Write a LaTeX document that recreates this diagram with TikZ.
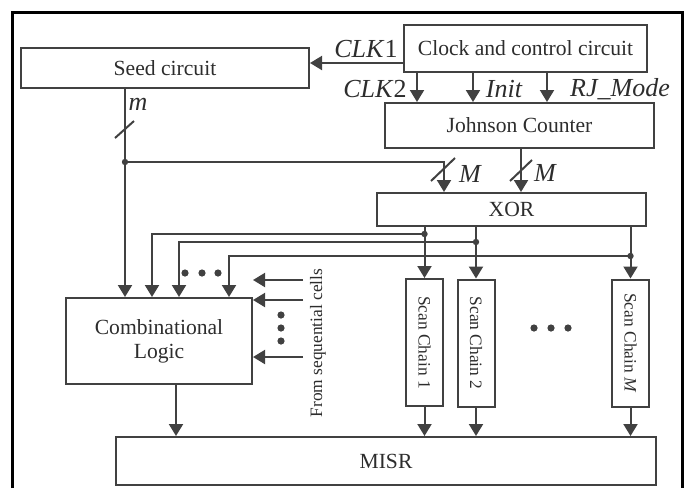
\documentclass[tikz,border=0pt]{standalone}
\usepackage{fontspec}
\setmainfont{Liberation Serif}
\usetikzlibrary{arrows.meta}
\definecolor{linegray}{RGB}{65,65,65}
\definecolor{textgray}{RGB}{45,45,45}

\begin{document}
\begin{tikzpicture}[x=0.5pt,y=-0.5pt,
  blk/.style={draw=linegray, line width=1pt, text=textgray, inner sep=0pt, font=\fontsize{10.8}{12}\selectfont},
  chain/.style={blk, minimum width=18.5pt, minimum height=63.5pt, font=\fontsize{8.7}{10}\selectfont},
  wire/.style={draw=linegray, line width=1pt},
  arr/.style={wire, -{Triangle[length=6pt,width=7pt]}},
  sig/.style={text=textgray, inner sep=0pt, font=\fontsize{13}{15}\selectfont\itshape},
  jdot/.style={fill=linegray}]
\useasboundingbox (0,0) rectangle (688,488);

% Frame
\draw[line width=1.5pt] (12,488) -- (12,12) -- (682,12) -- (682,488);

% Blocks
\node[blk, minimum width=144pt, minimum height=20pt] (seed) at (165,68) {Seed circuit};
\node[blk, minimum width=121.5pt, minimum height=23.5pt] (clock) at (525.5,48.5) {Clock and control circuit};
\node[blk, minimum width=134.5pt, minimum height=22.5pt] (john) at (519.5,125.5) {Johnson Counter};
\node[blk, minimum width=134.5pt, minimum height=16.5pt] (xor) at (511.5,209.5) {XOR};
\node[blk, minimum width=93pt, minimum height=43pt, align=center] (comb) at (159,341) {Combinational\\Logic};
\node[chain] (sc1) at (424.5,342.5) {\rotatebox{-90}{Scan Chain 1}};
\node[chain] (sc2) at (476,343) {\rotatebox{-90}{Scan Chain 2}};
\node[chain] (scM) at (630.5,343) {\rotatebox{-90}{Scan Chain \textit{M}}};
\node[blk, minimum width=270pt, minimum height=24pt] (misr) at (386,461) {MISR};

% Clock signals
\coordinate (c1) at (0,63);
\draw[arr] (c1 -| clock.west) -- (c1 -| seed.east);
\node[sig] (lck1) at (366,49) {CLK\textup{1}};
\coordinate (ck2) at (417,0);
\coordinate (ini) at (473,0);
\coordinate (rjm) at (547,0);
\foreach \c in {ck2,ini,rjm}
  \draw[arr] (\c |- clock.south) -- (\c |- john.north);
\node[sig] (lck2) at (375,89) {CLK\textup{2}};
\node[sig] (linit) at (504,89) {Init};
\node[sig] (lrj) at (620,89) {RJ\_Mode};

% Seed and counter to XOR
\coordinate (sd) at (125,0);
\coordinate (br) at (125,162);
\coordinate (sx) at (444,162);
\coordinate (jx) at (521,0);
\draw[arr] (sd |- seed.south) -- (sd |- comb.north);
\fill[jdot] (br) circle (1.6pt);
\draw[arr] (br) -- (sx) -- (sx |- xor.north);
\draw[arr] (jx |- john.south) -- (jx |- xor.north);
\draw[wire] (115,138) -- (134,121);
\draw[wire] (431,181) -- (455,158);
\draw[wire] (510,181) -- (532,160);
\node[sig] (lm) at (138,104) {m};
\node[sig] (lM1) at (470,174) {M};
\node[sig] (lM2) at (545,173) {M};

% XOR to scan chains and feedback
\foreach \s in {sc1,sc2,scM}
  \draw[arr] (xor.south -| \s) -- (\s.north);
\coordinate (f1) at (152,234);
\coordinate (f2) at (179,242);
\coordinate (f3) at (229,256);
\foreach \f/\s in {f1/sc1,f2/sc2,f3/scM} {
  \draw[arr] (\f -| \s) -- (\f) -- (\f |- comb.north);
  \fill[jdot] (\f -| \s) circle (1.6pt);
}

% Dots
\foreach \xx in {185,202,218}
  \fill[jdot] (\xx,273) circle (1.8pt);
\foreach \yy in {315,328,341}
  \fill[jdot] (281,\yy) circle (1.8pt);
\foreach \xx in {534,551,568}
  \fill[jdot] (\xx,328) circle (1.8pt);

% From sequential cells
\foreach \yy [count=\i] in {280,300,357} {
  \coordinate (sq\i) at (303,\yy);
  \draw[arr] (sq\i) -- (sq\i -| comb.east);
}
\node[text=textgray, inner sep=0pt, rotate=90, font=\fontsize{8.7}{10}\selectfont] (lseq) at (318,343) {From sequential cells};

% Outputs to MISR
\coordinate (co) at (176,0);
\draw[arr] (co |- comb.south) -- (co |- misr.north);
\foreach \s in {sc1,sc2,scM}
  \draw[arr] (\s.south) -- (\s.south |- misr.north);
\end{tikzpicture}
\end{document}
